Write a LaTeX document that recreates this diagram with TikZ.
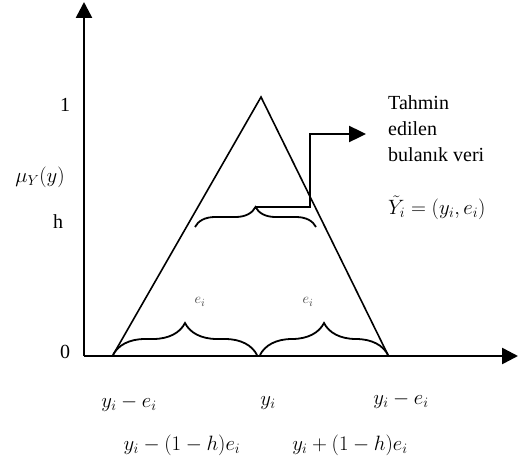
\documentclass[tikz,border=0pt]{standalone}
\usepackage{fontspec}
\setmainfont{Liberation Serif}
\usetikzlibrary{arrows.meta,decorations.pathreplacing}
\tikzset{
  axis/.style={line width=2.6pt,-{Triangle[width=16pt,length=16pt]}},
  tri/.style={line width=1.6pt,line join=miter},
  bracel/.style={line width=1.8pt,decorate,decoration={brace,amplitude=#1}},
  conn/.style={line width=2.4pt,-{Triangle[width=16pt,length=17pt]}},
  lbl/.style={inner sep=0pt,font=\fontsize{20}{26}\selectfont},
  small/.style={inner sep=0pt,font=\fontsize{15}{18}\selectfont,text=black!75}
}
\begin{document}
\begin{tikzpicture}[x=1pt,y=1pt]
\useasboundingbox (0,0) rectangle (518,459);
% coordinates
\coordinate (O) at (84,103);
\coordinate (Ytop) at (84,457);
\coordinate (Xend) at (518,103);
\coordinate (A) at (261,362);
\coordinate (L) at (113,104);
\coordinate (R) at (388,104);
\coordinate (M) at (258.5,104);
\coordinate (Ml) at (257,104);
\coordinate (Mr) at (260,104);
\coordinate (HL) at (195,232);
\coordinate (HR) at (316,232);
\coordinate (Htip) at (255.5,252);
\coordinate (C1) at (310,252);
\coordinate (C2) at (310,325);
\coordinate (Cend) at (366,325);
% axes
\draw[axis] (O) -- (Ytop);
\draw[axis] (O) -- (Xend);
% triangle
\draw[tri] (L) -- (A) -- (R);
% braces
\draw[bracel=32pt] (L) -- (Ml);
\draw[bracel=32pt] (Mr) -- (R);
\draw[bracel=20pt] (HL) -- (HR);
% connector
\draw[conn] (Htip) -- (C1) -- (C2) -- (Cend);
% y labels
\node[lbl] (one) at (65,354) {1};
\node[lbl] (mu) at (40,282) {$\mu_Y(y)$};
\node[lbl] (h) at (58,237) {h};
\node[lbl] (zero) at (65,107) {0};
% e_i labels
\node[small] (e1) at (200,157) {$e_i$};
\node[small] (e2) at (308,157) {$e_i$};
% bottom labels
\node[lbl] (b1) at (129,56) {$y_i-e_i$};
\node[lbl] (b2) at (268,56) {$y_i$};
\node[lbl] (b3) at (401,59) {$y_i-e_i$};
\node[lbl] (c1) at (182,14) {$y_i-(1-h)e_i$};
\node[lbl] (c2) at (350,14) {$y_i+(1-h)e_i$};
% text
\node[lbl,anchor=north west,align=left] (txt) at (388,364) {Tahmin\\edilen\\bulanık veri};
\node[lbl,anchor=west] (eq) at (388,251) {$\tilde{Y}_i=(y_i,e_i)$};
\end{tikzpicture}
\end{document}
